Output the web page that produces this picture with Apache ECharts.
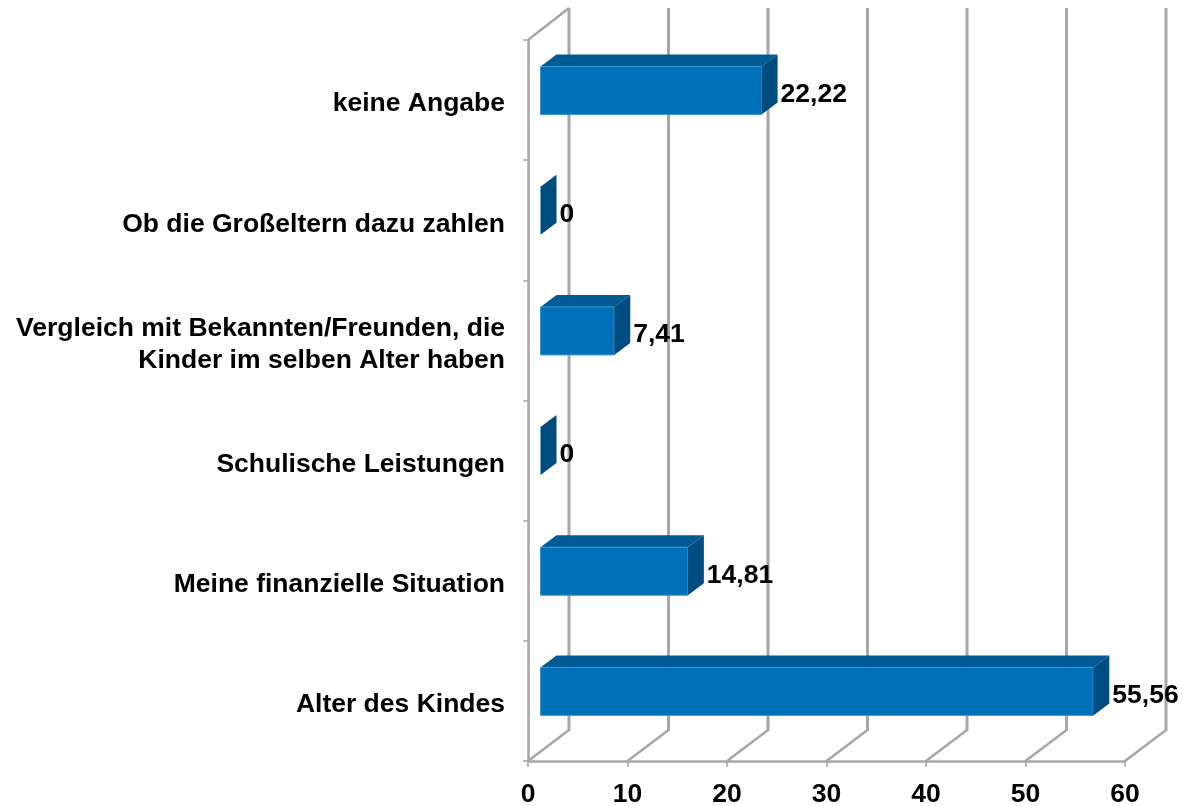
<!DOCTYPE html>
<html>
<head>
<meta charset="utf-8">
<style>
html, body { margin: 0; padding: 0; background: #fff; }
#chart { width: 1183px; height: 806px; }
</style>
<script src="https://cdn.jsdelivr.net/npm/echarts@6/dist/echarts.min.js"></script>
</head>
<body>
<div id="chart"></div>
<script>
const categories = [
    'Alter des Kindes',
    'Meine finanzielle Situation',
    'Schulische Leistungen',
    'Vergleich mit Bekannten/Freunden, die\nKinder im selben Alter haben',
    'Ob die Großeltern dazu zahlen',
    'keine Angabe'
];
const values = [55.56, 14.81, 0, 7.41, 0, 22.22];
const xTicks = [0, 10, 20, 30, 40, 50, 60];

const gray = '#a6a6a6';
const font = '"Liberation Sans", Arial, sans-serif';
// 3d look: how far the wall sits behind the axis, and the bar inside it
const wallDx = 41, wallDy = -31;
const barDx = 12.5, barDy = -9.5, barDepthX = 16, barDepthY = -12, barHeight = 48;

function renderWall(params, api) {
    const tick = api.value(0);
    const cs = params.coordSys;
    const x = api.coord([tick, 0])[0];
    const floor = cs.y + cs.height;
    const children = [
        { type: 'line', shape: { x1: x, y1: floor, x2: x + wallDx, y2: floor + wallDy }, style: { stroke: gray, lineWidth: 2.5 } },
        { type: 'line', shape: { x1: x + wallDx, y1: floor + wallDy + 1, x2: x + wallDx, y2: 8 }, style: { stroke: gray, lineWidth: 3 } }
    ];
    if (tick === 0) {
        children.push({ type: 'line', shape: { x1: x, y1: cs.y, x2: x + wallDx, y2: 8 }, style: { stroke: gray, lineWidth: 2.5 } });
    }
    return { type: 'group', children: children };
}

function renderBar(params, api) {
    const value = api.value(0);
    const start = api.coord([0, api.value(1)]);
    const end = api.coord([value, api.value(1)]);
    const x0 = start[0] + barDx;
    const x1 = end[0] + barDx;
    const top = start[1] + barDy - barHeight / 2;
    const bottom = top + barHeight;
    const children = [];
    if (value > 0) {
        children.push({
            type: 'polygon',
            shape: { points: [[x0, top], [x1, top], [x1 + barDepthX, top + barDepthY], [x0 + barDepthX, top + barDepthY]] },
            style: { fill: '#005b94' }
        });
        children.push({
            type: 'rect',
            shape: { x: x0, y: top, width: x1 - x0, height: barHeight },
            style: { fill: '#0070b9', stroke: '#3d97d0', lineWidth: 1 }
        });
    }
    children.push({
        type: 'polygon',
        shape: { points: [[x1, top], [x1 + barDepthX, top + barDepthY], [x1 + barDepthX, bottom + barDepthY], [x1, bottom]] },
        style: { fill: '#004b80' }
    });
    children.push({
        type: 'text',
        style: {
            x: x1 + barDepthX + 3,
            y: top + barHeight / 2 + 4,
            text: String(value).replace('.', ','),
            fill: '#000',
            font: 'bold 26.5px ' + font,
            textAlign: 'left',
            textVerticalAlign: 'middle'
        }
    });
    return { type: 'group', children: children };
}

// axisLabel ignores a vertical nudge, so the category names are placed here
function renderCategoryLabel(params, api) {
    const pos = api.coord([0, api.value(0)]);
    return {
        type: 'text',
        style: {
            x: pos[0] - 23,
            y: pos[1] + 4,
            text: categories[api.value(0)],
            fill: '#000',
            font: 'bold 26.5px ' + font,
            lineHeight: 32,
            textAlign: 'right',
            textVerticalAlign: 'middle'
        }
    };
}

const chart = echarts.init(document.getElementById('chart'));
chart.setOption({
    backgroundColor: '#fff',
    animation: false,
    grid: { left: 528, top: 40, width: 597, height: 721, containLabel: false, outerBoundsMode: 'none' },
    xAxis: {
        type: 'value',
        min: 0,
        max: 60,
        interval: 10,
        splitLine: { show: false },
        axisLine: { show: true, lineStyle: { color: gray, width: 2.5 } },
        axisTick: { show: true, length: 6, lineStyle: { color: gray, width: 1.5 } },
        axisLabel: { margin: 20, color: '#000', fontSize: 26.5, fontWeight: 'bold', fontFamily: font }
    },
    yAxis: {
        type: 'category',
        data: categories,
        axisLine: { show: true, lineStyle: { color: gray, width: 2.5 } },
        axisTick: { show: true, length: 5, lineStyle: { color: gray, width: 1.5 } },
        axisLabel: { show: false }
    },
    series: [
        {
            type: 'custom',
            renderItem: renderWall,
            data: xTicks.map(t => [t]),
            encode: { x: 0 },
            silent: true,
            z: 1
        },
        {
            type: 'custom',
            renderItem: renderBar,
            data: values.map((v, i) => [v, i]),
            encode: { x: 0, y: 1 },
            z: 2
        },
        {
            type: 'custom',
            renderItem: renderCategoryLabel,
            data: categories.map((c, i) => [i]),
            encode: { y: 0 },
            silent: true,
            z: 2
        }
    ]
});
</script>
</body>
</html>
